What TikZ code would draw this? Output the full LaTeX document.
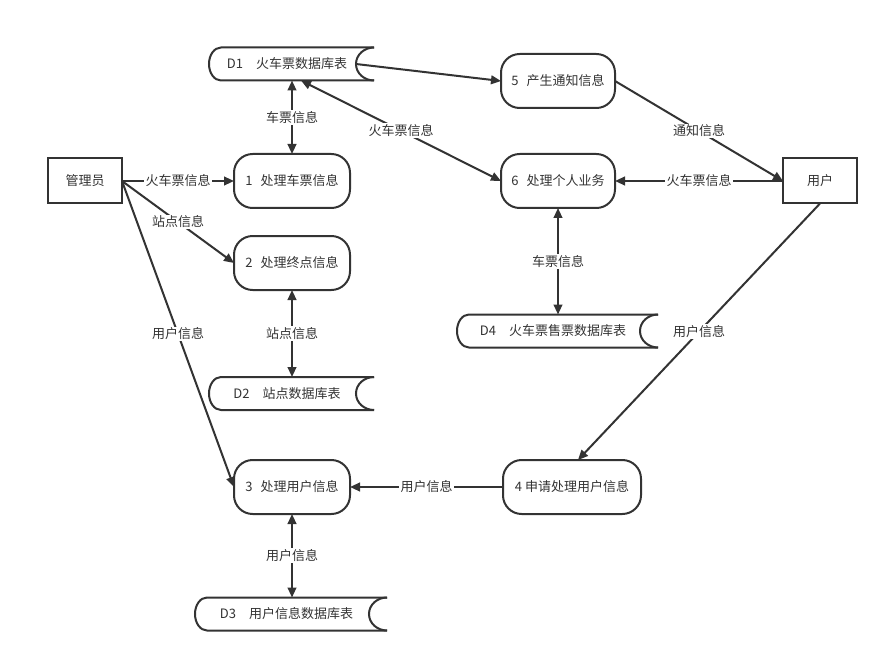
\documentclass[tikz,border=0pt]{standalone}
\usepackage{fontspec}
\setmainfont{Noto Sans CJK SC}
\usetikzlibrary{arrows.meta}
\definecolor{ink}{HTML}{333333}
\tikzset{
  base/.style={font=\fontsize{9.75pt}{12pt}\selectfont, text=ink},
  line/.style={draw=ink, line width=1.5pt},
  proc/.style={base, line, rounded corners=14pt, minimum height=40.5pt, inner sep=0pt, outer sep=0pt},
  ext/.style={base, line, minimum width=55.5pt, minimum height=33.75pt, inner sep=0pt, outer sep=0pt},
  store/.style={base, minimum height=24.75pt, inner sep=0pt, outer sep=0pt},
  flow/.style={line, -{Triangle[length=7.5pt,width=6.5pt]}},
  bflow/.style={line, {Triangle[length=7.5pt,width=6.5pt]}-{Triangle[length=7.5pt,width=6.5pt]}},
  lbl/.style={base, fill=white, inner sep=1pt}
}
\newcommand\dstore[1]{%
  \draw[line] ([xshift=6.75pt]#1.north east) -- ([xshift=9pt]#1.north west)
    arc[start angle=90,end angle=270,x radius=9pt,y radius=12.375pt]
    -- ([xshift=6.75pt]#1.south east);
  \draw[line] ([xshift=6.75pt]#1.north east)
    arc[start angle=90,end angle=270,x radius=13.5pt,y radius=12.375pt];}
\begin{document}
\begin{tikzpicture}[x=0.75pt,y=-0.75pt]
\useasboundingbox[fill=white] (0,0) rectangle (889,663);
% processes
\node[proc, minimum width=87pt] (p1) at (292,181) {1\hspace{0.6em}处理车票信息};
\node[proc, minimum width=87pt] (p2) at (292,263) {2\hspace{0.6em}处理终点信息};
\node[proc, minimum width=87pt] (p3) at (292,487) {3\hspace{0.6em}处理用户信息};
\node[proc, minimum width=103.5pt] (p4) at (572,487) {4 申请处理用户信息};
\node[proc, minimum width=85.5pt] (p5) at (558,81) {5\hspace{0.6em}产生通知信息};
\node[proc, minimum width=85.5pt] (p6) at (558,181) {6\hspace{0.6em}处理个人业务};
% externals
\node[ext] (admin) at (85,181) {管理员};
\node[ext] (user) at (820,181) {用户};
% data stores
\node[store, minimum width=117pt] (d1) at (287,64) {D1\hspace{1em}火车票数据库表};
\node[store, minimum width=117pt] (d2) at (287,393.5) {D2\hspace{1em}站点数据库表};
\node[store, minimum width=137.25pt] (d3) at (286.5,614) {D3\hspace{1em}用户信息数据库表};
\node[store, minimum width=144pt] (d4) at (553,331) {D4\hspace{1em}火车票售票数据库表};
\dstore{d1}\dstore{d2}\dstore{d3}\dstore{d4}
% flows
\draw[flow] ([xshift=-6.75pt]d1.east) -- (p5.west);
\draw[bflow] (p1.north |- d1.south) -- node[lbl]{车票信息} (p1.north);
\draw[bflow] ([xshift=10.5pt]d1.south) -- node[lbl]{火车票信息} (p6.west);
\draw[flow] (admin.east) -- node[lbl]{火车票信息} (p1.west);
\draw[flow] (admin.east) -- node[lbl]{站点信息} (p2.west);
\draw[flow] (admin.east) -- node[lbl]{用户信息} (p3.west);
\draw[bflow] (p2.south) -- node[lbl]{站点信息} (p2.south |- d2.north);
\draw[bflow] (p3.south) -- node[lbl]{用户信息} (p3.south |- d3.north);
\draw[flow] (p4.west) -- node[lbl]{用户信息} (p3.east);
\draw[flow] (user.south) -- node[lbl]{用户信息} ([xshift=4.5pt]p4.north);
\draw[flow] (p5.east) -- node[lbl]{通知信息} (user.west);
\draw[flow] (user.west) -- node[lbl]{火车票信息} (p6.east);
\draw[bflow] (p6.south) -- node[lbl]{车票信息} (p6.south |- d4.north);
\end{tikzpicture}
\end{document}
